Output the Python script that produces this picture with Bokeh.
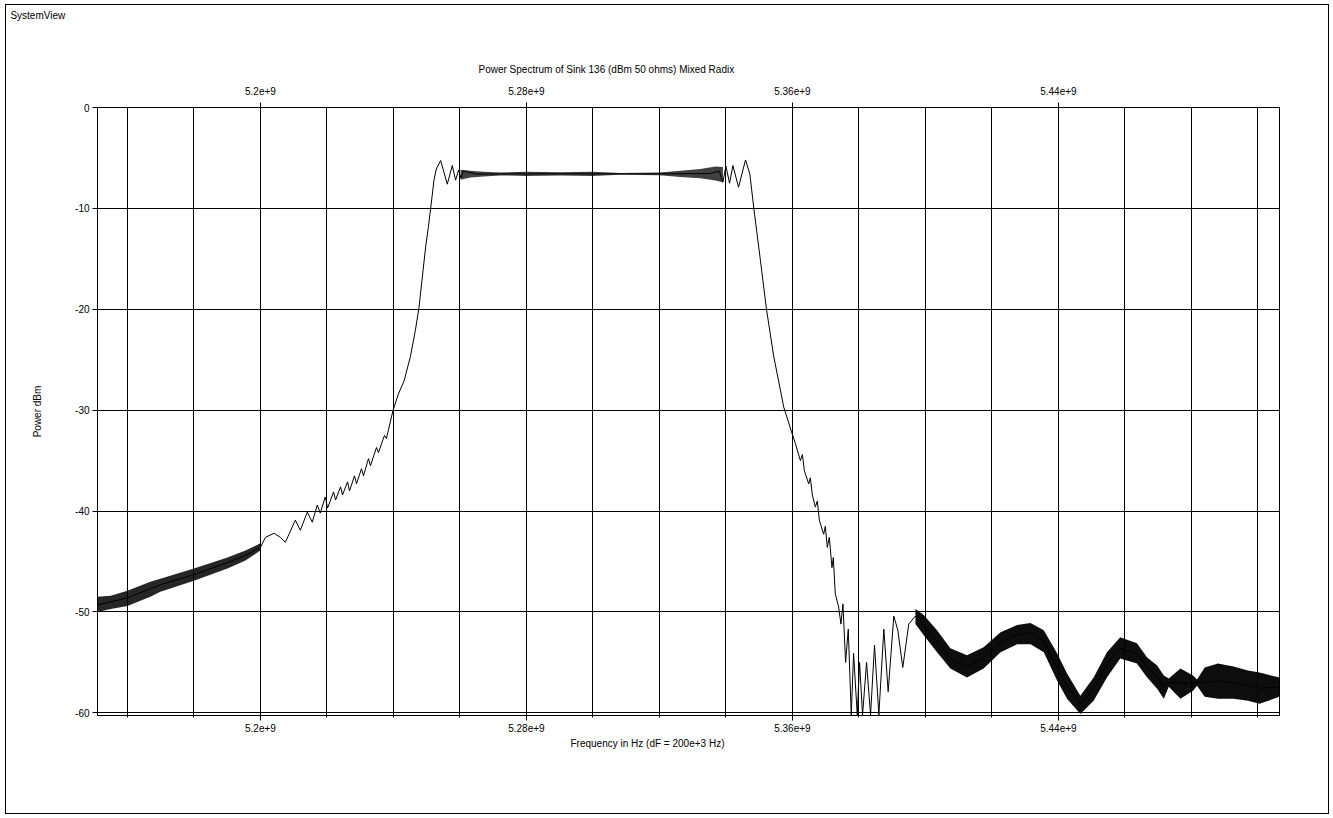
import numpy as np
from bokeh.plotting import figure
from bokeh.models import Range1d, FixedTicker, LinearAxis, Label, Title
from bokeh.embed import file_html
from bokeh.resources import INLINE

# ---------------- data (frequency in MHz, power in dBm) ----------------
# main trace (thin line)
trace_mhz = [5151.0, 5155.0, 5160.0, 5166.9, 5169.9, 5180.0, 5190.1, 5195.5, 5200.0,
             5201.5, 5204.1, 5206.0, 5207.5, 5210.5, 5212.0, 5214.1, 5215.6, 5217.1, 5218.0,
             5219.5, 5220.2, 5222.0, 5222.6, 5224.1, 5224.7, 5226.2, 5226.8, 5228.3, 5228.9,
             5230.4, 5231.0, 5232.5, 5233.1, 5234.9, 5235.5, 5237.3, 5237.9, 5239.9, 5241.5,
             5243.2, 5245.1, 5246.6, 5247.7, 5248.7, 5249.7, 5250.5, 5251.2, 5252.2, 5252.9,
             5254.2, 5256.2, 5257.7, 5258.7, 5259.6, 5260.3, 5261.0,
             5265.0, 5280.0, 5300.0, 5320.0, 5335.0, 5338.0,
             5339.1, 5340.0, 5341.1, 5342.1, 5343.8, 5345.9, 5347.2, 5348.4, 5350.4, 5352.2,
             5354.4, 5357.4, 5359.6, 5360.9, 5362.4, 5363.0, 5363.6, 5364.9, 5365.4, 5366.0,
             5366.9, 5367.5, 5368.1, 5369.4, 5369.9, 5370.5, 5371.1, 5371.9, 5372.3, 5372.9,
             5373.9, 5374.6, 5375.2, 5376.0, 5376.8, 5377.7, 5378.4, 5379.5, 5380.2, 5381.1,
             5382.3, 5383.5, 5384.7, 5386.0, 5387.5, 5388.8, 5390.5, 5391.7, 5393.2, 5395.0,
             5397.0, 5399.5, 5403.5, 5407.5, 5412.5, 5417.5, 5422.6, 5427.6, 5431.6, 5435.6,
             5439.6, 5442.6, 5446.6, 5450.6, 5454.6, 5458.6, 5463.6, 5466.7, 5469.7, 5471.7,
             5473.2, 5476.7, 5480.5, 5481.7, 5484.0, 5488.0, 5492.7, 5497.0, 5500.5, 5506.5]
trace_dbm = [-49.3, -49.0, -48.6, -47.7, -47.3, -46.3, -45.1, -44.4, -43.6,
             -42.6, -42.2, -42.6, -43.1, -40.9, -41.9, -40.1, -41.1, -39.4, -40.2,
             -38.6, -39.7, -38.1, -38.9, -37.6, -38.4, -37.1, -38.0, -36.5, -37.3,
             -35.8, -36.5, -34.8, -35.5, -33.7, -34.2, -32.5, -32.8, -30.0, -28.4,
             -27.1, -24.7, -22.1, -19.8, -16.8, -13.8, -11.9, -10.0, -7.2, -6.1,
             -5.25, -7.6, -5.75, -7.2, -6.2, -7.0, -6.3,
             -6.6, -6.57, -6.57, -6.57, -6.55, -6.3,
             -7.4, -5.8, -7.5, -5.75, -7.9, -5.2, -6.6, -10.0, -15.2, -20.0,
             -24.7, -29.7, -32.0, -33.3, -35.0, -34.4, -36.0, -37.3, -36.7, -38.4,
             -39.6, -39.0, -40.9, -42.3, -41.5, -43.6, -42.6, -45.6, -44.6, -48.2,
             -49.5, -51.2, -49.2, -55.0, -51.7, -60.2, -54.1, -60.2, -55.0, -60.2,
             -55.0, -60.2, -53.3, -60.2, -51.7, -57.9, -50.4, -51.8, -55.5, -51.2,
             -50.4, -51.3, -52.9, -54.6, -55.4, -54.5, -53.0, -52.25, -52.1, -52.9,
             -55.5, -57.3, -59.2, -57.6, -55.2, -53.6, -54.1, -55.5, -56.4, -57.4,
             -57.0, -57.1, -57.05, -57.0, -57.0, -56.85, -57.0, -57.3, -57.55, -57.45]

# noise envelopes (upper / lower) of the dense parts of the trace
left_band_mhz = [5151.0, 5155.0, 5160.0, 5166.9, 5169.9, 5180.0, 5190.1, 5195.5, 5200.0]
left_band_hi = [-48.5, -48.4, -47.9, -47.0, -46.7, -45.7, -44.6, -43.9, -43.2]
left_band_lo = [-50.0, -49.7, -49.4, -48.5, -48.0, -46.9, -45.7, -44.9, -43.9]

pass_band_mhz = [5260.2, 5263.2, 5267.1, 5272.2, 5280.0, 5290.2, 5299.8, 5308.3, 5320.0,
                 5326.3, 5332.3, 5336.8, 5339.1]
pass_band_hi = [-6.17, -6.26, -6.36, -6.45, -6.38, -6.42, -6.36, -6.49, -6.44, -6.28, -6.10, -5.85, -5.90]
pass_band_lo = [-7.16, -6.95, -6.85, -6.73, -6.78, -6.74, -6.80, -6.66, -6.72, -6.88, -7.00, -7.23, -7.40]

right_band_mhz = [5397.0, 5399.5, 5403.5, 5407.5, 5412.5, 5417.5, 5422.6, 5427.6, 5431.6, 5435.6,
                  5439.6, 5442.6, 5446.6, 5450.6, 5454.6, 5458.6, 5463.6, 5466.7, 5469.7, 5471.7,
                  5473.2, 5476.7, 5480.5, 5481.7, 5484.0, 5488.0, 5492.7, 5497.0, 5500.5, 5506.5]
right_band_hi = [-49.7, -50.3, -51.8, -53.6, -54.3, -53.5, -52.0, -51.3, -51.1, -51.8,
                 -54.1, -56.1, -58.3, -56.5, -54.0, -52.5, -53.1, -54.5, -55.3, -56.3,
                 -56.6, -55.6, -56.3, -56.7, -55.5, -55.1, -55.4, -55.8, -56.0, -56.5]
right_band_lo = [-51.2, -52.3, -54.0, -55.6, -56.5, -55.6, -54.0, -53.2, -53.2, -54.0,
                 -56.8, -58.6, -60.1, -58.8, -56.5, -54.6, -55.1, -56.5, -57.6, -58.6,
                 -57.4, -58.6, -57.8, -57.3, -58.4, -58.6, -58.6, -58.8, -59.1, -58.4]

# axes
x_major_mhz = [5200, 5280, 5360, 5440]
x_major_labels = ["5.2e+9", "5.28e+9", "5.36e+9", "5.44e+9"]
x_grid_mhz = [5160, 5180, 5200, 5220, 5240, 5260, 5280, 5300, 5320, 5340, 5360, 5380,
              5400, 5420, 5440, 5460, 5480, 5500]
y_ticks = [0, -10, -20, -30, -40, -50, -60]
y_tick_labels = ["0", "-10", "-20", "-30", "-40", "-50", "-60"]

title_text = "Power Spectrum of Sink 136 (dBm 50 ohms) Mixed Radix"
x_label_text = "Frequency in Hz (dF = 200e+3 Hz)"
y_label_text = "Power dBm"
corner_text = "SystemView"

# ---------------- figure ----------------
FONT = "Liberation Sans"
FS = "10px"
MHZ = 1e6

p = figure(width=1324, height=810, output_backend="svg", toolbar_location=None,
           x_range=Range1d(5151.0 * MHZ, 5506.5 * MHZ), y_range=Range1d(-60.26, 0),
           x_axis_location=None, y_axis_location=None,
           min_border_left=91, min_border_right=51, min_border_top=102, min_border_bottom=100)
p.styles = {"border": "1px solid black", "margin-left": "5px", "margin-top": "4px"}
p.background_fill_color = "white"
p.border_fill_color = "white"
p.outline_line_color = "black"
p.outline_line_width = 1

xt = FixedTicker(ticks=[v * MHZ for v in x_major_mhz], minor_ticks=[v * MHZ for v in x_grid_mhz])
x_overrides = {v * MHZ: s for v, s in zip(x_major_mhz, x_major_labels)}
yt = FixedTicker(ticks=y_ticks, minor_ticks=[])
y_overrides = {v: s for v, s in zip(y_ticks, y_tick_labels)}


def style_axis(ax):
    ax.axis_line_color = "black"
    ax.major_tick_line_color = "black"
    ax.minor_tick_line_color = "black"
    ax.major_label_text_font = FONT
    ax.major_label_text_font_size = FS
    ax.major_label_text_color = "black"
    ax.axis_label_text_font = FONT
    ax.axis_label_text_font_size = FS
    ax.axis_label_text_font_style = "normal"
    ax.axis_label_text_color = "black"
    ax.major_tick_in = 0
    ax.minor_tick_in = 0


bottom = LinearAxis(ticker=xt, major_label_overrides=x_overrides)
style_axis(bottom)
bottom.major_tick_out = 5
bottom.minor_tick_out = 2
bottom.major_label_standoff = 3
p.add_layout(bottom, "below")

top = LinearAxis(ticker=xt, major_label_overrides=x_overrides)
style_axis(top)
top.major_tick_out = 5
top.minor_tick_out = 0
top.major_label_standoff = 8
p.add_layout(top, "above")

left = LinearAxis(ticker=yt, axis_label=y_label_text, major_label_overrides=y_overrides)
style_axis(left)
left.major_tick_out = 5
left.minor_tick_out = 0
left.major_label_standoff = 3
left.axis_label_standoff = 29
p.add_layout(left, "left")

# title (above, left-aligned with offset so that it sits where the original does)
p.add_layout(Title(text=title_text, align="left", offset=381, standoff=18,
                   text_font=FONT, text_font_size=FS, text_font_style="normal",
                   text_color="black", vertical_align="bottom"), "above")
# x axis label (below)
p.add_layout(Title(text=x_label_text, align="left", offset=473, standoff=6,
                   text_font=FONT, text_font_size=FS, text_font_style="normal",
                   text_color="black", vertical_align="top"), "below")
# corner caption (placed in a side panel so that it is not clipped to the frame)
p.add_layout(Label(x=5124.8 * MHZ, y=9.12, text=corner_text,
                   text_align="left", text_baseline="middle", text_font=FONT,
                   text_font_size=FS, text_color="black"), "above")

# grid
p.xgrid.ticker = xt
p.xgrid.grid_line_color = "black"
p.xgrid.minor_grid_line_color = "black"
p.xgrid.grid_line_width = 1
p.ygrid.ticker = yt
p.ygrid.grid_line_color = "black"
p.ygrid.grid_line_width = 1

# data
lb = np.array(left_band_mhz) * MHZ
pb = np.array(pass_band_mhz) * MHZ
rb = np.array(right_band_mhz) * MHZ
p.varea(x=lb, y1=left_band_lo, y2=left_band_hi, fill_color="black", fill_alpha=0.85)
p.varea(x=pb, y1=pass_band_lo, y2=pass_band_hi, fill_color="black", fill_alpha=0.75)
p.varea(x=rb, y1=right_band_lo, y2=right_band_hi, fill_color="black", fill_alpha=0.95)
p.line(np.array(trace_mhz) * MHZ, trace_dbm, line_color="black", line_width=1)

open("out.html", "w").write(file_html(p, INLINE))
